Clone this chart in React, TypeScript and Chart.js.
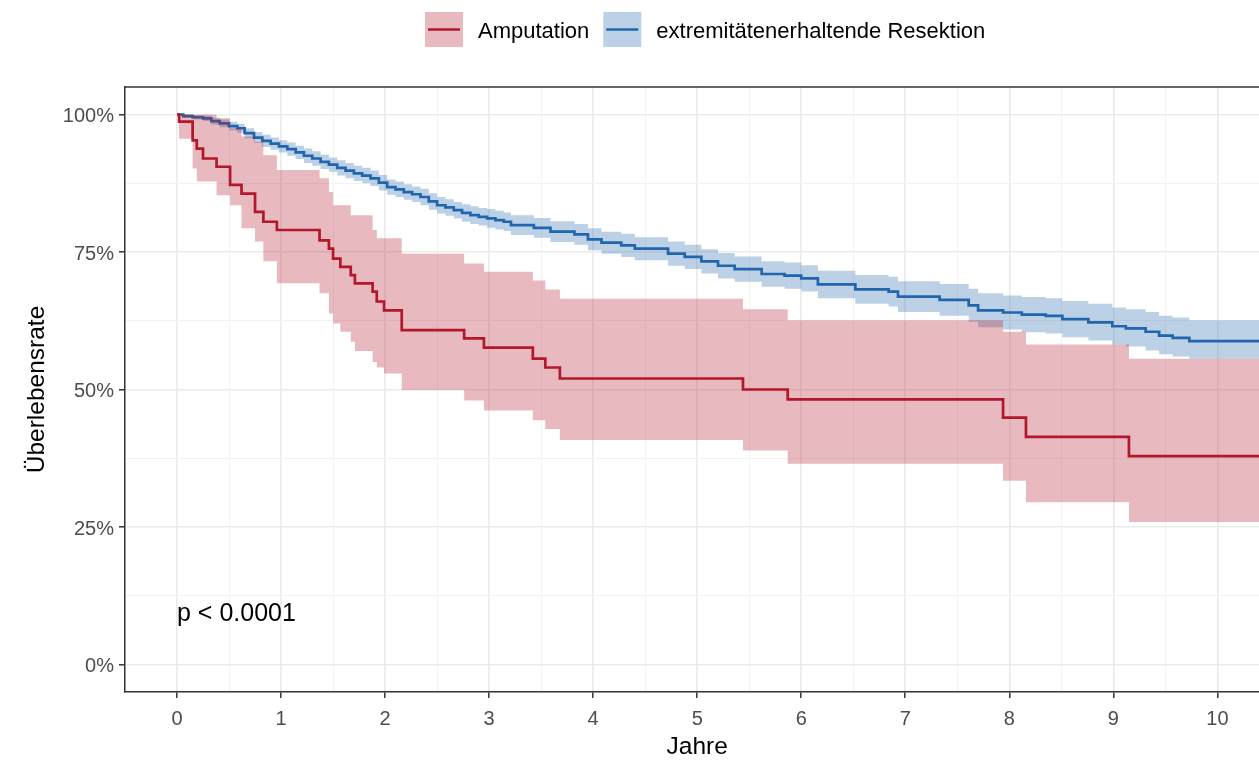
import React, { useEffect, useRef } from "react";
import { Chart, registerables } from "chart.js";

Chart.register(...registerables);

// ---------- data ----------
const X_MAJOR = [0, 1, 2, 3, 4, 5, 6, 7, 8, 9, 10];
const X_MINOR = [0.5, 1.5, 2.5, 3.5, 4.5, 5.5, 6.5, 7.5, 8.5, 9.5];
const Y_MAJOR = [0, 0.25, 0.5, 0.75, 1];
const Y_MINOR = [0.125, 0.375, 0.625, 0.875];

const SERIES_NAMES = ["Amputation", "extremitätenerhaltende Resektion"];
const X_TITLE = "Jahre";
const Y_TITLE = "Überlebensrate";
const P_TEXT = "p < 0.0001";

// Amputation
const RED_T = [0, 0.02, 0.15, 0.19, 0.25, 0.38, 0.51, 0.62, 0.75, 0.83, 0.96, 1.37, 1.46, 1.5, 1.57, 1.67, 1.71, 1.88, 1.92, 1.99, 2.16, 2.76, 2.95, 3.42, 3.54, 3.68, 5.44, 5.87, 7.94, 8.16, 9.15, 10.6];
const RED_S = [1.0, 0.987, 0.953, 0.938, 0.92, 0.905, 0.872, 0.856, 0.823, 0.805, 0.79, 0.771, 0.756, 0.738, 0.723, 0.708, 0.693, 0.678, 0.66, 0.644, 0.608, 0.593, 0.576, 0.556, 0.54, 0.52, 0.5, 0.482, 0.449, 0.414, 0.379, 0.379];
const RED_U = [1.0, 1.0, 1.0, 1.0, 1.0, 0.993, 0.975, 0.96, 0.95, 0.926, 0.899, 0.884, 0.859, 0.835, 0.835, 0.817, 0.817, 0.79, 0.775, 0.775, 0.747, 0.729, 0.714, 0.698, 0.682, 0.665, 0.646, 0.626, 0.605, 0.582, 0.556, 0.556];
const RED_L = [1.0, 0.956, 0.902, 0.878, 0.878, 0.853, 0.835, 0.793, 0.769, 0.733, 0.693, 0.675, 0.638, 0.62, 0.605, 0.587, 0.57, 0.55, 0.54, 0.529, 0.499, 0.48, 0.462, 0.444, 0.428, 0.408, 0.389, 0.365, 0.334, 0.295, 0.259, 0.259];

// extremitätenerhaltende Resektion
const BLUE_T = [0, 0.06, 0.15, 0.25, 0.33, 0.41, 0.5, 0.58, 0.65, 0.74, 0.82, 0.9, 0.98, 1.06, 1.14, 1.22, 1.3, 1.38, 1.46, 1.54, 1.62, 1.7, 1.78, 1.86, 1.94, 2.02, 2.1, 2.18, 2.26, 2.34, 2.42, 2.5, 2.58, 2.66, 2.74, 2.82, 2.9, 2.98, 3.06, 3.14, 3.21, 3.43, 3.59, 3.82, 3.95, 4.08, 4.27, 4.4, 4.72, 4.88, 5.04, 5.2, 5.36, 5.62, 5.84, 6.0, 6.16, 6.52, 6.84, 6.93, 7.33, 7.61, 7.7, 7.94, 8.12, 8.35, 8.51, 8.76, 8.99, 9.12, 9.31, 9.44, 9.57, 9.73, 10.6];
const BLUE_S = [1.0, 0.997, 0.995, 0.993, 0.988, 0.984, 0.979, 0.975, 0.966, 0.958, 0.952, 0.947, 0.942, 0.937, 0.931, 0.925, 0.92, 0.914, 0.909, 0.903, 0.898, 0.893, 0.889, 0.884, 0.876, 0.868, 0.864, 0.859, 0.855, 0.85, 0.842, 0.835, 0.831, 0.826, 0.821, 0.817, 0.814, 0.811, 0.808, 0.805, 0.799, 0.794, 0.787, 0.782, 0.773, 0.767, 0.762, 0.756, 0.747, 0.741, 0.733, 0.725, 0.719, 0.71, 0.707, 0.702, 0.691, 0.682, 0.678, 0.669, 0.663, 0.653, 0.644, 0.64, 0.636, 0.634, 0.628, 0.622, 0.615, 0.611, 0.605, 0.598, 0.594, 0.588, 0.588];
const BLUE_U = [1.0, 1.0, 0.999, 0.998, 0.994, 0.991, 0.987, 0.983, 0.975, 0.968, 0.963, 0.958, 0.953, 0.949, 0.943, 0.938, 0.933, 0.927, 0.922, 0.917, 0.912, 0.907, 0.903, 0.898, 0.89, 0.882, 0.878, 0.873, 0.869, 0.865, 0.857, 0.85, 0.846, 0.841, 0.837, 0.833, 0.83, 0.828, 0.825, 0.822, 0.817, 0.812, 0.806, 0.801, 0.793, 0.787, 0.783, 0.777, 0.769, 0.763, 0.755, 0.748, 0.742, 0.733, 0.731, 0.726, 0.716, 0.708, 0.705, 0.697, 0.692, 0.683, 0.675, 0.671, 0.668, 0.666, 0.661, 0.656, 0.649, 0.646, 0.641, 0.634, 0.631, 0.626, 0.626];
const BLUE_L = [1.0, 0.994, 0.991, 0.988, 0.982, 0.977, 0.971, 0.967, 0.957, 0.948, 0.941, 0.936, 0.931, 0.925, 0.919, 0.912, 0.907, 0.901, 0.896, 0.889, 0.884, 0.879, 0.875, 0.87, 0.862, 0.854, 0.85, 0.845, 0.841, 0.835, 0.827, 0.82, 0.816, 0.811, 0.805, 0.801, 0.798, 0.794, 0.791, 0.788, 0.781, 0.776, 0.768, 0.763, 0.753, 0.747, 0.741, 0.735, 0.725, 0.719, 0.711, 0.702, 0.696, 0.687, 0.683, 0.678, 0.666, 0.656, 0.651, 0.641, 0.634, 0.623, 0.613, 0.609, 0.604, 0.602, 0.595, 0.589, 0.582, 0.578, 0.571, 0.564, 0.56, 0.556, 0.556];

// ---------- styles ----------
const RED = "rgb(178,24,43)";
const RED_FILL = "rgba(178,24,43,0.3)";
const BLUE = "rgb(33,102,172)";
const BLUE_FILL = "rgba(33,102,172,0.3)";
const FONT = "'Liberation Sans', Arial, sans-serif";

const pts = (t: number[], v: number[]) => t.map((x, i) => ({ x, y: v[i] }));

const isMajorX = (v: number) => X_MAJOR.includes(v);
const isMajorY = (v: number) => Y_MAJOR.includes(v);

const overlay = {
  id: "overlay",
  afterDraw(chart: any) {
    const { ctx, chartArea, scales } = chart;
    const xs = scales.x;
    const ys = scales.y;
    ctx.save();
    // top frame line
    ctx.strokeStyle = "#333333";
    ctx.lineWidth = 1.5;
    ctx.beginPath();
    ctx.moveTo(chartArea.left, chartArea.top);
    ctx.lineTo(chartArea.right, chartArea.top);
    ctx.stroke();

    // p-value
    ctx.fillStyle = "#000000";
    ctx.font = `25px ${FONT}`;
    ctx.textAlign = "left";
    ctx.textBaseline = "middle";
    ctx.fillText(P_TEXT, xs.getPixelForValue(0), ys.getPixelForValue(0.1) + 5);

    // axis titles
    ctx.font = `24.5px ${FONT}`;
    ctx.textAlign = "center";
    ctx.textBaseline = "middle";
    ctx.fillText(X_TITLE, xs.getPixelForValue(5), 747);
    ctx.save();
    ctx.translate(37, (chartArea.top + chartArea.bottom) / 2);
    ctx.rotate(-Math.PI / 2);
    ctx.fillText(Y_TITLE, 0, 0);
    ctx.restore();

    // legend
    ctx.font = `22px ${FONT}`;
    ctx.textAlign = "left";
    ctx.textBaseline = "middle";
    const colors = [RED, BLUE];
    const fills = [RED_FILL, BLUE_FILL];
    let x = 425;
    const boxW = 38;
    const boxTop = 12;
    const boxH = 35;
    SERIES_NAMES.forEach((name, i) => {
      ctx.fillStyle = fills[i];
      ctx.fillRect(x, boxTop, boxW, boxH);
      ctx.strokeStyle = colors[i];
      ctx.lineWidth = 2.5;
      ctx.beginPath();
      ctx.moveTo(x + 3, boxTop + boxH / 2);
      ctx.lineTo(x + boxW - 3, boxTop + boxH / 2);
      ctx.stroke();
      ctx.fillStyle = "#000000";
      const tx = x + boxW + 15;
      ctx.fillText(name, tx, boxTop + boxH / 2 + 2);
      x = tx + ctx.measureText(name).width + 14;
    });
    ctx.restore();
  },
};

export default function App() {
  const ref = useRef<HTMLCanvasElement | null>(null);

  useEffect(() => {
    if (!ref.current) return;
    const lineBase = { pointRadius: 0, pointHoverRadius: 0, stepped: "before" as const, tension: 0 };
    const chart = new Chart(ref.current, {
      type: "line",
      data: {
        datasets: [
          { ...lineBase, label: "redUpper", data: pts(RED_T, RED_U), borderWidth: 0, borderColor: "transparent", fill: false },
          { ...lineBase, label: "redLower", data: pts(RED_T, RED_L), borderWidth: 0, borderColor: "transparent", backgroundColor: RED_FILL, fill: "-1" },
          { ...lineBase, label: "blueUpper", data: pts(BLUE_T, BLUE_U), borderWidth: 0, borderColor: "transparent", fill: false },
          { ...lineBase, label: "blueLower", data: pts(BLUE_T, BLUE_L), borderWidth: 0, borderColor: "transparent", backgroundColor: BLUE_FILL, fill: "-1" },
          { ...lineBase, label: SERIES_NAMES[0], data: pts(RED_T, RED_S), borderWidth: 2.7, borderColor: RED, fill: false },
          { ...lineBase, label: SERIES_NAMES[1], data: pts(BLUE_T, BLUE_S), borderWidth: 2.7, borderColor: BLUE, fill: false },
        ],
      },
      options: {
        responsive: false,
        animation: false,
        events: [],
        layout: { padding: { top: 87, left: 0, right: 0, bottom: 0 } },
        plugins: { legend: { display: false }, tooltip: { enabled: false }, title: { display: false } },
        scales: {
          x: {
            type: "linear",
            min: -0.5,
            max: 10.4,
            afterBuildTicks: (scale: any) => {
              scale.ticks = [...X_MAJOR, ...X_MINOR].sort((a, b) => a - b).map((v) => ({ value: v }));
            },
            afterFit: (scale: any) => {
              scale.height = 72;
            },
            ticks: {
              autoSkip: false,
              maxRotation: 0,
              minRotation: 0,
              padding: 9,
              color: "#4D4D4D",
              font: { family: FONT, size: 20 },
              callback: (v: any) => (isMajorX(Number(v)) ? String(v) : ""),
            },
            grid: {
              color: (c: any) => (c.tick && isMajorX(c.tick.value) ? "#EBEBEB" : "#F2F2F2"),
              lineWidth: (c: any) => (c.tick && isMajorX(c.tick.value) ? 1.6 : 1),
              tickColor: (c: any) => (c.tick && isMajorX(c.tick.value) ? "#333333" : "rgba(0,0,0,0)"),
              tickLength: 6,
              tickWidth: 1.5,
            },
            border: { display: true, color: "#333333", width: 1.5 },
          },
          y: {
            type: "linear",
            min: -0.05,
            max: 1.05,
            afterBuildTicks: (scale: any) => {
              scale.ticks = [...Y_MAJOR, ...Y_MINOR].sort((a, b) => a - b).map((v) => ({ value: v }));
            },
            afterFit: (scale: any) => {
              scale.width = 125;
            },
            ticks: {
              autoSkip: false,
              padding: 5,
              labelOffset: 2,
              color: "#4D4D4D",
              font: { family: FONT, size: 20 },
              callback: (v: any) => (isMajorY(Number(v)) ? `${Math.round(Number(v) * 100)}%` : ""),
            },
            grid: {
              color: (c: any) => (c.tick && isMajorY(c.tick.value) ? "#EBEBEB" : "#F2F2F2"),
              lineWidth: (c: any) => (c.tick && isMajorY(c.tick.value) ? 1.6 : 1),
              tickColor: (c: any) => (c.tick && isMajorY(c.tick.value) ? "#333333" : "rgba(0,0,0,0)"),
              tickLength: 6,
              tickWidth: 1.5,
            },
            border: { display: true, color: "#333333", width: 1.5 },
          },
        },
      },
      plugins: [overlay],
    });
    return () => chart.destroy();
  }, []);

  return (
    <div style={{ position: "fixed", left: 0, top: 0, width: 1259, height: 764, background: "#ffffff" }}>
      <canvas ref={ref} width={1259} height={764} style={{ display: "block" }} />
    </div>
  );
}
